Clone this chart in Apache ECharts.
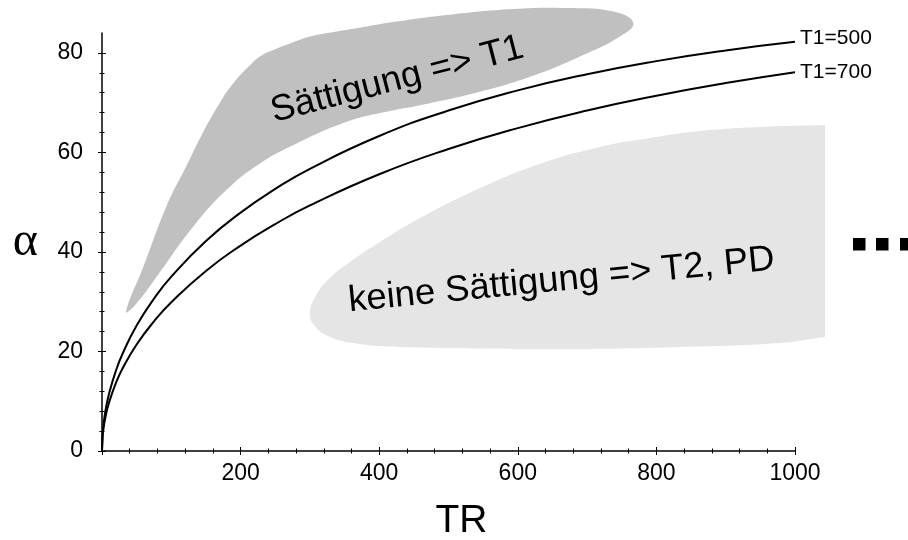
<!DOCTYPE html>
<html>
<head>
<meta charset="utf-8">
<title>Flipwinkel und TR</title>
<script src="https://cdn.jsdelivr.net/npm/echarts@6.0.0/dist/echarts.min.js"></script>
<style>
  html, body { margin: 0; padding: 0; background: #fff; }
  #chart { width: 908px; height: 540px; }
</style>
</head>
<body>
<div id="chart"></div>
<script>
// TR-Werte und Winkel (Grad) der beiden Kurven
var trValues = [0, 1, 2, 5, 10, 20, 30, 50, 75, 100, 150, 200, 250, 300, 400, 500, 600, 700, 800, 900, 1000];
var alphaT1500 = [0, 3.62, 5.12, 8.09, 11.42, 16.10, 19.65, 25.20, 30.60, 35.04, 42.20, 47.91, 52.66, 56.71, 63.30, 68.42, 72.47, 75.72, 78.35, 80.49, 82.22];
var alphaT1700 = [0, 3.06, 4.33, 6.84, 9.66, 13.63, 16.66, 21.40, 26.05, 29.90, 36.19, 41.28, 45.60, 49.35, 55.62, 60.69, 64.89, 68.43, 71.40, 73.95, 76.13];

// Umriss "Sättigung => T1" (dunkelgrau)
var satTR = [34.6, 59.6, 93.4, 121.2, 145.3, 172.7, 189.5, 211.1, 228.0, 247.2, 271.3, 300.1, 338.7, 382.0, 415.6, 497.4, 593.5, 670.6, 737.8, 766.7, 747.5, 689.8, 617.6, 545.5, 473.3, 401.2, 348.2, 281.0, 228.0, 179.9, 131.7, 78.9, 47.6];
var satAlpha = [28.0, 37.0, 49.3, 57.1, 63.9, 70.6, 73.9, 77.2, 79.3, 80.6, 81.9, 83.3, 84.3, 85.3, 86.1, 87.6, 88.8, 89.0, 88.3, 86.0, 83.3, 79.3, 75.2, 72.2, 69.9, 67.9, 65.9, 61.8, 57.8, 52.5, 45.1, 35.0, 29.3];

// Umriss "keine Sättigung => T2, PD" (hellgrau), rechts gerade abgeschnitten
var freeTR = [1043.3, 949.5, 862.9, 790.8, 718.6, 632.0, 531.0, 458.9, 401.2, 357.9, 329.0, 308.8, 300.1, 305.9, 329.0, 372.3, 430.0, 545.5, 689.8, 834.1, 978.4, 1043.3];
var freeAlpha = [65.5, 65.1, 64.3, 62.9, 61.1, 57.7, 51.9, 46.8, 42.0, 38.0, 34.8, 31.2, 27.9, 25.3, 22.9, 21.5, 20.9, 20.6, 20.5, 20.9, 21.7, 22.9];

var yMajorTicks = [0, 20, 40, 60, 80];

var chart = echarts.init(document.getElementById('chart'));

function curve(values, name, offsetY) {
  return {
    type: 'line',
    name: name,
    data: trValues.map(function (tr, i) { return [tr, values[i]]; }),
    showSymbol: false,
    smooth: 0.5,
    lineStyle: { color: '#000', width: 2 },
    endLabel: {
      show: true,
      formatter: name,
      color: '#000',
      fontSize: 21,
      fontFamily: 'Liberation Sans',
      distance: 5,
      offset: [0, offsetY]
    },
    z: 5
  };
}

function region(xs, ys, color, text, textAt, angle, cutRight) {
  return {
    type: 'custom',
    coordinateSystem: 'cartesian2d',
    clip: false,
    silent: true,
    data: [[xs[0], ys[0]]],
    renderItem: function (params, api) {
      var pts = xs.map(function (x, i) { return api.coord([x, ys[i]]); });
      if (cutRight) {
        // doppelte Eckpunkte -> gerade Kante rechts
        pts = [pts[0]].concat(pts, [pts[pts.length - 1]]);
      }
      var c = api.coord(textAt);
      return {
        type: 'group',
        children: [
          {
            type: 'polygon',
            shape: { points: pts, smooth: 0.45 },
            style: { fill: color, lineWidth: 0 }
          },
          {
            type: 'text',
            x: c[0],
            y: c[1],
            rotation: angle * Math.PI / 180,
            style: {
              text: text,
              fill: '#000',
              fontSize: 36.5,
              fontFamily: 'Liberation Sans',
              textAlign: 'center',
              textVerticalAlign: 'middle',
              align: 'center',
              verticalAlign: 'middle'
            }
          }
        ]
      };
    },
    z: 1
  };
}

var tickLine = { color: '#000', width: 1 };

var option = {
  animation: false,
  backgroundColor: '#fff',
  grid: { left: 102, right: 113, top: 33, bottom: 89, outerBoundsMode: 'none' },
  xAxis: [
    {
      type: 'value',
      position: 'bottom',
      min: 0,
      max: 1000,
      interval: 200,
      name: 'TR',
      nameLocation: 'middle',
      nameGap: 51,
      nameTextStyle: { color: '#000', fontSize: 39, fontFamily: 'Liberation Sans', padding: [0, 0, 0, 26] },
      axisLine: { show: true, lineStyle: { color: '#000', width: 1.5 } },
      axisTick: { show: true, length: 4, lineStyle: tickLine },
      minorTick: { show: true, splitNumber: 5, length: 2.5, lineStyle: tickLine },
      axisLabel: {
        color: '#000', fontSize: 23, fontFamily: 'Liberation Sans', margin: 11,
        formatter: function (v) { return v === 0 ? '' : String(v); }
      },
      splitLine: { show: false }
    },
    {
      type: 'value',
      position: 'bottom',
      min: 0,
      max: 1000,
      interval: 200,
      axisLine: { show: false },
      axisTick: { show: true, inside: true, length: 4, lineStyle: tickLine },
      minorTick: { show: true, splitNumber: 5, length: 2.5, lineStyle: tickLine },
      axisLabel: { show: false },
      splitLine: { show: false }
    }
  ],
  yAxis: [
    {
      type: 'value',
      position: 'left',
      min: 0,
      max: 84,
      interval: 20,
      name: 'α',
      nameLocation: 'middle',
      nameRotate: 0,
      nameGap: 64,
      nameTextStyle: { color: '#000', fontSize: 48, fontFamily: 'Liberation Serif' },
      axisLine: { show: true, lineStyle: { color: '#000', width: 1.5 } },
      axisTick: { show: true, length: 4, lineStyle: tickLine, customValues: yMajorTicks },
      minorTick: { show: true, splitNumber: 5, length: 2.5, lineStyle: tickLine },
      axisLabel: {
        color: '#000', fontSize: 23, fontFamily: 'Liberation Sans', margin: 19,
        customValues: yMajorTicks
      },
      splitLine: { show: false }
    },
    {
      type: 'value',
      position: 'left',
      min: 0,
      max: 84,
      interval: 20,
      axisLine: { show: false },
      axisTick: { show: true, inside: true, length: 4, lineStyle: tickLine, customValues: yMajorTicks },
      minorTick: { show: true, splitNumber: 5, length: 2.5, lineStyle: tickLine },
      axisLabel: { show: false },
      splitLine: { show: false }
    }
  ],
  graphic: [
    { type: 'rect', shape: { x: 853, y: 238, width: 12.5, height: 12.5 }, style: { fill: '#000' } },
    { type: 'rect', shape: { x: 876, y: 238, width: 12.5, height: 12.5 }, style: { fill: '#000' } },
    { type: 'rect', shape: { x: 900, y: 238, width: 12.5, height: 12.5 }, style: { fill: '#000' } }
  ],
  series: [
    region(satTR, satAlpha, '#c0c0c0', 'Sättigung => T1', [426, 74.6], 14.5, false),
    region(freeTR, freeAlpha, '#e5e5e5', 'keine Sättigung => T2, PD', [663, 34.3], 5.6, true),
    curve(alphaT1500, 'T1=500', -4),
    curve(alphaT1700, 'T1=700', 0)
  ]
};

chart.setOption(option);
</script>
</body>
</html>
